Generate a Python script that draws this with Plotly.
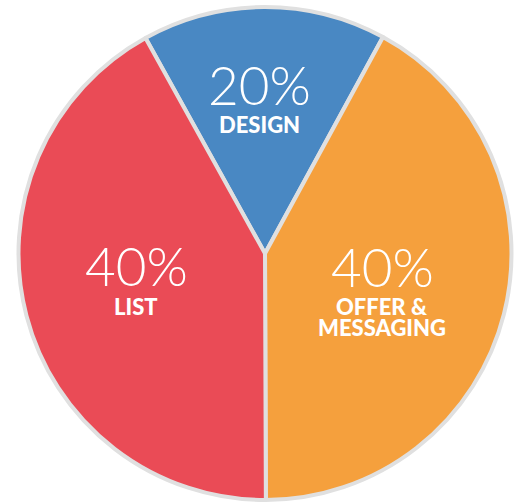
import plotly.graph_objects as go

# Slice names and printed percentages (as labelled in the chart)
categories = ["DESIGN", "OFFER &<br>MESSAGING", "LIST"]
pct_labels = ["20%", "40%", "40%"]
# Slice sizes as drawn (angular share)
slice_sizes = [16.0, 42.0, 42.0]
colors = ["#4988C3", "#F5A03D", "#EA4B56"]

W, H = 517, 502
# label anchor positions (pixels from top-left)
label_px = [259, 382, 136]
pct_py = [85, 266, 265]
name_py = [124, 306, 306]
line_gap = 21

fig = go.Figure(
    go.Pie(
        labels=[c.replace("<br>", " ") for c in categories],
        values=slice_sizes,
        sort=False,
        direction="clockwise",
        rotation=-29,
        marker=dict(colors=colors, line=dict(color="#E0E0E0", width=4)),
        textinfo="none",
        hoverinfo="label+percent",
        domain=dict(x=[18 / W, 512 / W], y=[1 - 500 / H, 1 - 7 / H]),
        showlegend=False,
    )
)

annotations = []
for i in range(len(categories)):
    annotations.append(dict(
        x=label_px[i] / W, y=1 - pct_py[i] / H, xref="paper", yref="paper",
        text=pct_labels[i], showarrow=False,
        font=dict(family="Lato", size=53, color="white", weight=300),
        xanchor="center", yanchor="middle",
    ))
    for j, line in enumerate(categories[i].split("<br>")):
        annotations.append(dict(
            x=label_px[i] / W, y=1 - (name_py[i] + j * line_gap) / H,
            xref="paper", yref="paper",
            text=line, showarrow=False,
            font=dict(family="Lato", size=22, color="white", weight=900),
            xanchor="center", yanchor="middle",
        ))

fig.update_layout(
    width=W, height=H,
    margin=dict(l=0, r=0, t=0, b=0),
    paper_bgcolor="white",
    annotations=annotations,
)

fig.write_html(
    "out.html",
    config={"displayModeBar": False},
    post_script="document.body.style.margin='0';",
)
